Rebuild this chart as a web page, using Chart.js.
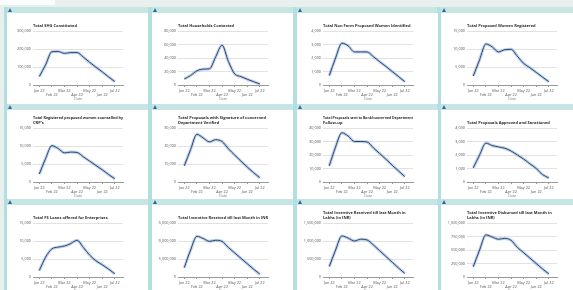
<!DOCTYPE html>
<html><head><meta charset="utf-8">
<script src="https://cdn.jsdelivr.net/npm/chart.js@4.4.0/dist/chart.umd.min.js"></script>
<style>
html,body{margin:0;padding:0;}
body{width:573px;height:290px;overflow:hidden;background:#e9eeef;position:relative;font-family:"Open Sans",sans-serif;}
.tab{position:absolute;left:0;top:0;width:55px;height:5px;background:#fbfcfc;}
.band{position:absolute;left:4px;width:569px;height:6px;background:#c6e6e3;}
.bar{position:absolute;top:7px;width:4px;height:283px;background:#b3dfe1;}
.panel{position:absolute;background:#fff;overflow:hidden;}
.icon{position:absolute;width:0;height:0;border-left:2.5px solid transparent;border-right:2.5px solid transparent;border-bottom:4px solid #2f6aa6;}
canvas{position:absolute;left:0;top:0;}
</style></head><body>
<div class="tab"></div>
<script>
// ---- data ----
const months = ["Jan 22","Feb 22","Mar 22","Apr 22","May 22","Jun 22","Jul 22"];
const periods = [0,1,2,3,4,5,6,7,8,9,10,11,12]; // half-month steps, Jan 22 .. Jul 22
const monthTicks = [0,2,4,6,8,10,12];

const title1 = ["Total SHG Constituted"];
const values1 = [47000,112000,185000,186000,176000,180000,180000,155000,126000,99000,73000,45000,19000];
const yTicks1 = [0,100000,200000,300000];

const title2 = ["Total Households Contacted"];
const values2 = [9000,14000,21000,23500,24000,42000,59000,35000,16500,12500,8500,5000,1500];
const yTicks2 = [0,20000,40000,60000,80000];

const title3 = ["Total Non Farm Proposed Women Identified"];
const values3 = [700,2000,3100,2900,2450,2450,2450,2100,1725,1375,1000,625,250];
const yTicks3 = [0,1000,2000,3000,4000];

const title4 = ["Total Proposed Women Registered"];
const values4 = [2500,7000,11400,10600,9200,9800,9900,8000,6000,4800,3500,2200,900];
const yTicks4 = [0,5000,10000,15000];

const title5 = ["Total Registered proposed women counselled by","CRP's"];
const values5 = [2200,6500,10100,9300,8100,8300,8200,7000,5800,4600,3400,2100,900];
const yTicks5 = [0,5000,10000,15000];

const title6 = ["Total Proposals with Signature of concerned","Department Verified"];
const values6 = [9000,18000,26500,24500,22300,23500,22500,18500,15000,11600,8300,5200,2400];
const yTicks6 = [0,10000,20000,30000];

const title7 = ["Total Proposals sent to Bank/concerned Department","Follow-up"];
const values7 = [12000,26000,36500,34000,30000,30000,29700,25300,21100,16900,12400,8200,4000];
const yTicks7 = [0,10000,20000,30000,40000];

const title8 = ["Total Proposals Approved and Sanctioned"];
const values8 = [1050,2000,2880,2700,2600,2500,2300,2000,1700,1350,1000,550,300];
const yTicks8 = [0,1000,2000,3000,4000];

const title9 = ["Total FS Loans offered for Enterprises"];
const values9 = [1800,5500,7800,8300,8600,9300,10200,8200,6100,4500,3400,2200,900];
const yTicks9 = [0,5000,10000,15000];

const title10 = ["Total Incentive Received till last Month in INR"];
const values10 = [2600000,7500000,11300000,10700000,9900000,10200000,9900000,8200000,6700000,5200000,3700000,2200000,800000];
const yTicks10 = [0,5000000,10000000,15000000];

const title11 = ["Total Incentive Received till last Month in","Lakhs (in INR)"];
const values11 = [290000,750000,1140000,1080000,1000000,1050000,1030000,890000,730000,570000,410000,250000,100000];
const yTicks11 = [0,500000,1000000,1500000];

const title12 = ["Total Incentive Disbursed till last Month in","Lakhs (in INR)"];
const values12 = [190000,500000,780000,740000,700000,715000,680000,550000,450000,350000,250000,150000,56000];
const yTicks12 = [0,250000,500000,750000,1000000];

const charts = [
  [title1,values1,yTicks1],[title2,values2,yTicks2],[title3,values3,yTicks3],[title4,values4,yTicks4],
  [title5,values5,yTicks5],[title6,values6,yTicks6],[title7,values7,yTicks7],[title8,values8,yTicks8],
  [title9,values9,yTicks9],[title10,values10,yTicks10],[title11,values11,yTicks11],[title12,values12,yTicks12]
];

// ---- layout ----
const colLeft = [7,152,297,441];
const barLeft = [4,148,293,437];
const bandTop = [7,104,199];
const rowTop = [13,110,205];
const rowH = [91,89,90];
const FONT = '"Open Sans", "Liberation Sans", sans-serif';

bandTop.forEach(t=>{const b=document.createElement('div');b.className='band';b.style.top=t+'px';document.body.appendChild(b);});
barLeft.forEach(l=>{const b=document.createElement('div');b.className='bar';b.style.left=l+'px';document.body.appendChild(b);});

charts.forEach((c,i)=>{
  const r = Math.floor(i/4), col = i%4;
  const [title, values, yTicks] = c;
  const icon = document.createElement('div'); icon.className='icon';
  icon.style.left=(colLeft[col]+1)+'px'; icon.style.top=(bandTop[r]+1)+'px';
  document.body.appendChild(icon);
  const p = document.createElement('div'); p.className='panel';
  p.style.left=colLeft[col]+'px'; p.style.top=rowTop[r]+'px';
  p.style.width='141px'; p.style.height=rowH[r]+'px';
  const cv = document.createElement('canvas'); cv.width=141; cv.height=90;
  cv.style.width='141px'; cv.style.height='90px';
  p.appendChild(cv); document.body.appendChild(p);
  const pts = periods.map((x,k)=>({x:x,y:values[k]}));
  const lh = 5;
  new Chart(cv,{
    type:'line',
    data:{datasets:[
      {data:pts,borderColor:'#33456c',borderWidth:1,tension:0.35,cubicInterpolationMode:'monotone',pointRadius:0,fill:false,order:0},
      {data:pts,borderColor:'rgba(125,170,222,0.55)',borderWidth:3,tension:0.35,cubicInterpolationMode:'monotone',pointRadius:0,fill:false,order:1}
    ]},
    options:{
      responsive:false,animation:false,devicePixelRatio:1,
      layout:{padding:{left:6,right:25,top:0,bottom:2}},
      plugins:{
        legend:{display:false},tooltip:{enabled:false},
        title:{display:true,text:title,align:'start',fullSize:false,color:'#2b2b2b',
          font:{family:FONT,size:4,weight:'bold',lineHeight:1.25},
          padding:{top:18-3-title.length*lh,bottom:3}}
      },
      scales:{
        x:{type:'linear',min:-1,max:13.3,
          afterBuildTicks:s=>{s.ticks=monthTicks.map(v=>({value:v}));},
          ticks:{autoSkip:false,maxRotation:0,color:'#555',padding:1,
            font:{family:FONT,size:3.8,lineHeight:1.3},
            callback:(v)=>{const m=Math.round(v/2);return m%2===0?months[m]:['',months[m]];}},
          grid:{drawOnChartArea:false,tickLength:2,color:'#999'},
          border:{color:'#9a9a9a',width:1},
          title:{display:true,text:'Date',color:'#777',font:{family:FONT,size:3.5},padding:{top:1,bottom:0}},
          afterFit:s=>{s.height=16;}
        },
        y:{min:0,max:yTicks[yTicks.length-1],
          afterBuildTicks:s=>{s.ticks=yTicks.map(v=>({value:v}));},
          ticks:{color:'#555',padding:2,font:{family:FONT,size:3.8},callback:v=>v.toLocaleString('en-US')},
          grid:{color:'#e2e2e2',drawTicks:false},
          border:{display:false},
          afterFit:s=>{s.width=20;}
        }
      }
    }
  });
});
</script>
</body></html>
